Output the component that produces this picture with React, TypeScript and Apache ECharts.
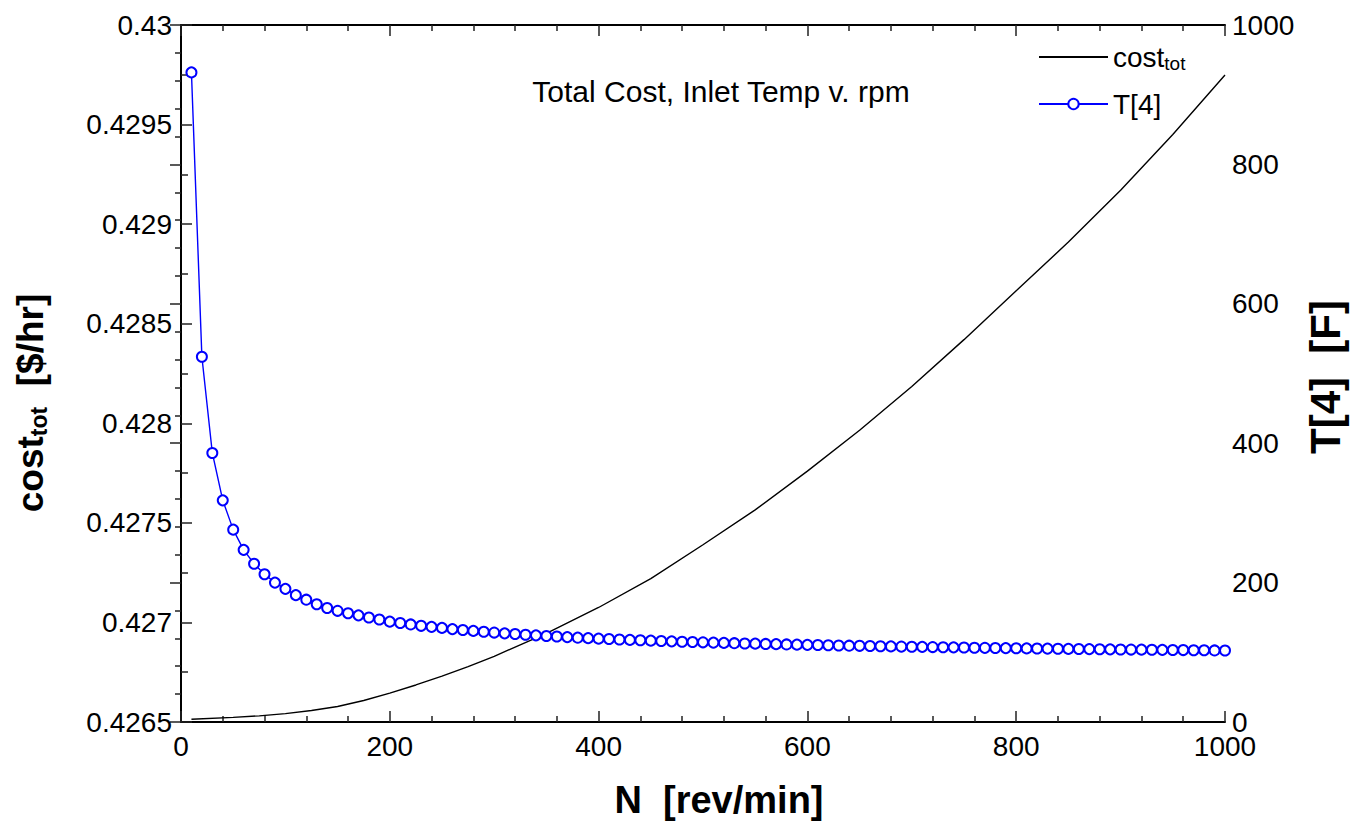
import React, { useEffect, useRef } from "react";
import * as echarts from "echarts";

const FONT = "'Liberation Sans', Arial, Helvetica, sans-serif";

// T[4] [F] sampled at N = 10..1000 step 10
const nT: number[] = [
  10, 20, 30, 40, 50, 60, 70, 80, 90, 100,
  110, 120, 130, 140, 150, 160, 170, 180, 190, 200,
  210, 220, 230, 240, 250, 260, 270, 280, 290, 300,
  310, 320, 330, 340, 350, 360, 370, 380, 390, 400,
  410, 420, 430, 440, 450, 460, 470, 480, 490, 500,
  510, 520, 530, 540, 550, 560, 570, 580, 590, 600,
  610, 620, 630, 640, 650, 660, 670, 680, 690, 700,
  710, 720, 730, 740, 750, 760, 770, 780, 790, 800,
  810, 820, 830, 840, 850, 860, 870, 880, 890, 900,
  910, 920, 930, 940, 950, 960, 970, 980, 990, 1000,
];
const t4: number[] = [
  932, 524, 386, 318, 276, 247, 227, 212, 200, 191,
  182, 175.5, 169, 163.5, 159.5, 156, 153, 150, 147, 144,
  142, 140, 138, 136.5, 135, 133.3, 132, 130.7, 129.4, 128.3,
  127.2, 126.2, 125.2, 124.3, 123.4, 122.6, 121.8, 121, 120.3, 119.6,
  119, 118.4, 117.8, 117.2, 116.7, 116.2, 115.7, 115.2, 114.8, 114.3,
  113.9, 113.5, 113.1, 112.7, 112.4, 112, 111.7, 111.3, 111, 110.7,
  110.4, 110.1, 109.8, 109.5, 109.3, 109, 108.7, 108.5, 108.2, 108,
  107.8, 107.5, 107.3, 107.1, 106.9, 106.6, 106.4, 106.2, 106, 105.8,
  105.6, 105.4, 105.3, 105.1, 104.9, 104.7, 104.6, 104.4, 104.2, 104.1,
  103.9, 103.8, 103.6, 103.5, 103.3, 103.2, 103, 102.9, 102.7, 102.6,
];

// cost_tot [$/hr]
const nCost: number[] = [
  10, 50, 75, 100, 125, 150, 175, 200, 225, 250, 275, 300, 350, 400, 450, 500,
  550, 600, 650, 700, 750, 800, 850, 900, 950, 1000,
];
const costTot: number[] = [
  0.426514, 0.426523, 0.426531, 0.426542, 0.426558, 0.426578, 0.426608,
  0.426645, 0.426686, 0.42673, 0.426778, 0.42683, 0.426945, 0.427075,
  0.42722, 0.42739, 0.427565, 0.42776, 0.427965, 0.428185, 0.42842,
  0.428665, 0.42891, 0.42917, 0.42945, 0.429749,
];

export default function App() {
  const ref = useRef<HTMLDivElement>(null);
  useEffect(() => {
    document.body.style.margin = "0";
    if (!ref.current) return;
    const chart = echarts.init(ref.current, null, { renderer: "svg" });
    const axisLine = { show: true, lineStyle: { color: "#000", width: 2 } };
    const tickStyle = { color: "#222", width: 1.5 };
    const plain = (v: number) => String(+v.toFixed(4));
    chart.setOption({
      animation: false,
      backgroundColor: "#fff",
      textStyle: { fontFamily: FONT },
      grid: { left: 181, right: 130, top: 25, bottom: 101, containLabel: false },
      title: {
        text: "Total Cost, Inlet Temp v. rpm",
        left: 716,
        top: 71,
        textAlign: "center",
        textStyle: { fontFamily: FONT, fontSize: 30, fontWeight: "normal", color: "#000" },
      },
      legend: {
        orient: "vertical",
        left: 1033,
        top: 38,
        itemWidth: 69,
        itemHeight: 13,
        itemGap: 17,
        data: [{ name: "cost", itemStyle: { opacity: 0 } }, { name: "T[4]" }],
        formatter: (name: string) => (name === "cost" ? "{a|cost}{b|tot}" : "{a|T[4]}"),
        textStyle: {
          fontFamily: FONT,
          color: "#000",
          rich: {
            a: { fontSize: 28, fontFamily: FONT, color: "#000", lineHeight: 32 },
            b: { fontSize: 19, fontFamily: FONT, color: "#000", lineHeight: 20, verticalAlign: "bottom" },
          },
        },
      },
      xAxis: [
        {
          type: "value",
          min: 0,
          max: 1000,
          interval: 200,
          position: "bottom",
          axisLine,
          axisTick: { show: true, inside: true, length: 11, lineStyle: tickStyle },
          minorTick: { show: true, splitNumber: 5, length: 6, lineStyle: tickStyle },
          splitLine: { show: false },
          axisLabel: { fontSize: 28, fontFamily: FONT, color: "#000", margin: 10, formatter: plain },
        },
        {
          type: "value",
          min: 0,
          max: 1000,
          interval: 200,
          position: "top",
          axisLine,
          axisTick: { show: true, inside: true, length: 11, lineStyle: tickStyle },
          minorTick: { show: true, splitNumber: 5, length: 6, lineStyle: tickStyle },
          splitLine: { show: false },
          axisLabel: { show: false },
        },
      ],
      yAxis: [
        {
          type: "value",
          min: 0.4265,
          max: 0.43,
          interval: 0.0005,
          position: "left",
          axisLine,
          axisTick: { show: true, inside: true, length: 11, lineStyle: tickStyle },
          minorTick: { show: true, splitNumber: 2, length: 7, lineStyle: tickStyle },
          splitLine: { show: false },
          axisLabel: { fontSize: 28, fontFamily: FONT, color: "#000", margin: 9, formatter: plain },
        },
        {
          type: "value",
          min: 0,
          max: 1000,
          interval: 200,
          position: "right",
          axisLine,
          axisTick: { show: true, inside: true, length: 11, lineStyle: tickStyle },
          minorTick: { show: true, splitNumber: 5, length: 6, lineStyle: tickStyle },
          splitLine: { show: false },
          axisLabel: { fontSize: 28, fontFamily: FONT, color: "#000", margin: 7, formatter: plain },
        },
      ],
      graphic: [
        {
          type: "text",
          x: 719,
          y: 800,
          style: {
            text: "N  [rev/min]",
            fontSize: 38,
            fontWeight: "bold",
            fontFamily: FONT,
            fill: "#000",
            align: "center",
            verticalAlign: "middle",
          },
        },
        {
          type: "text",
          x: 30,
          y: 403,
          rotation: Math.PI / 2,
          style: {
            text: "{a|cost}{b|tot}{a|  [$/hr]}",
            fill: "#000",
            align: "center",
            verticalAlign: "middle",
            rich: {
              a: { fontSize: 37, fontWeight: "bold", fontFamily: FONT, fill: "#000", lineHeight: 40 },
              b: { fontSize: 23, fontWeight: "bold", fontFamily: FONT, fill: "#000", lineHeight: 26, verticalAlign: "bottom" },
            },
          },
        },
        {
          type: "text",
          x: 1325,
          y: 377,
          rotation: Math.PI / 2,
          style: {
            text: "T[4]  [F]",
            fontSize: 42,
            fontWeight: "bold",
            fontFamily: FONT,
            fill: "#000",
            align: "center",
            verticalAlign: "middle",
          },
        },
      ],
      series: [
        {
          name: "cost",
          type: "line",
          xAxisIndex: 0,
          yAxisIndex: 0,
          data: nCost.map((n, i) => [n, costTot[i]]),
          showSymbol: false,
          symbol: "none",
          lineStyle: { color: "#000", width: 1.4 },
          itemStyle: { color: "#000" },
          z: 2,
        },
        {
          name: "T[4]",
          type: "line",
          xAxisIndex: 0,
          yAxisIndex: 1,
          data: nT.map((n, i) => [n, t4[i]]),
          symbol: "emptyCircle",
          symbolSize: 10,
          lineStyle: { color: "#0000ff", width: 1.4 },
          itemStyle: { color: "#0000ff", borderColor: "#0000ff", borderWidth: 1.4 },
          z: 3,
        },
      ],
    });
    return () => chart.dispose();
  }, []);
  return <div ref={ref} style={{ width: 1355, height: 823 }} />;
}
